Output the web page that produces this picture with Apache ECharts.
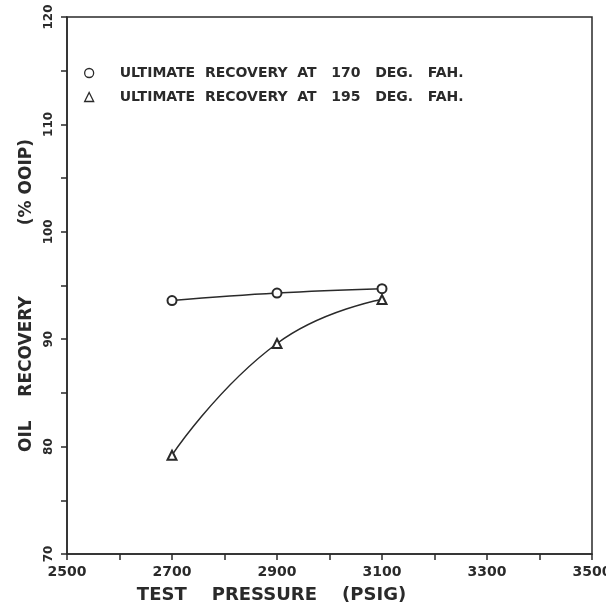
<!DOCTYPE html>
<html>
<head>
<meta charset="utf-8">
<script src="https://cdn.jsdelivr.net/npm/echarts@6/dist/echarts.min.js"></script>
<style>html,body{margin:0;padding:0;background:#fff;}#c{width:606px;height:607px;}</style>
</head>
<body>
<div id="c"></div>
<script>
const pressures = [2700, 2900, 3100];
const recovery170 = [93.6, 94.3, 94.7];
const recovery195 = [79.2, 89.6, 93.7];
const seriesNames = ['ULTIMATE  RECOVERY  AT   170   DEG.   FAH.', 'ULTIMATE  RECOVERY  AT   195   DEG.   FAH.'];
const xTicks = [2500, 2700, 2900, 3100, 3300, 3500];
const yTicks = [70, 80, 90, 100, 110, 120];

const ink = '#2a2a2a';
const chart = echarts.init(document.getElementById('c'), null, {renderer: 'canvas'});
chart.setOption({
  backgroundColor: '#fff',
  animation: false,
  grid: {left: 67, right: 14, top: 17, bottom: 53, show: true, borderColor: ink, borderWidth: 1.5, backgroundColor: 'transparent', outerBoundsMode: 'none', containLabel: false},
  legend: {
    orient: 'vertical', left: 79, top: 61, itemGap: 10,
    itemWidth: 9, itemHeight: 9,
    textStyle: {color: ink, fontFamily: 'DejaVu Sans', fontWeight: 'bold', fontSize: 14, padding: [0, 0, 0, 21]},
    data: [
      {name: seriesNames[0], icon: 'circle', itemStyle: {color: '#fff', borderColor: ink, borderWidth: 1.3}},
      {name: seriesNames[1], icon: 'triangle', itemStyle: {color: '#fff', borderColor: ink, borderWidth: 1.3}}
    ]
  },
  xAxis: {
    type: 'value', min: xTicks[0], max: xTicks[xTicks.length - 1], interval: 200,
    name: 'TEST    PRESSURE    (PSIG)', nameLocation: 'middle', nameGap: 32,
    nameTextStyle: {color: ink, fontFamily: 'DejaVu Sans', fontWeight: 'bold', fontSize: 18, padding: [0, 0, 0, -116]},
    axisLine: {show: true, lineStyle: {color: ink, width: 1.5}},
    axisTick: {show: true, inside: false, length: 6, lineStyle: {color: ink, width: 1.5}},
    minorTick: {show: true, splitNumber: 2, length: 6, lineStyle: {color: ink, width: 1.5}},
    splitLine: {show: false},
    axisLabel: {color: ink, fontFamily: 'DejaVu Sans', fontWeight: 'bold', fontSize: 14, margin: 11, showMaxLabel: true, showMinLabel: true,
      formatter: v => String(v)}
  },
  yAxis: {
    type: 'value', min: yTicks[0], max: yTicks[yTicks.length - 1], interval: 10,
    name: 'OIL    RECOVERY            (% OOIP)', nameLocation: 'middle', nameGap: 31,
    nameTextStyle: {color: ink, fontFamily: 'DejaVu Sans', fontWeight: 'bold', fontSize: 17, padding: [0, 0, 0, -20]},
    axisLine: {show: true, lineStyle: {color: ink, width: 1.5}},
    axisTick: {show: true, inside: false, length: 6, lineStyle: {color: ink, width: 1.5}},
    minorTick: {show: true, splitNumber: 2, length: 6, lineStyle: {color: ink, width: 1.5}},
    splitLine: {show: false},
    axisLabel: {color: ink, fontFamily: 'DejaVu Sans', fontWeight: 'bold', fontSize: 12, rotate: 90, margin: 12,
      formatter: v => String(v)}
  },
  series: [
    {
      name: seriesNames[0], type: 'line', smooth: 0.4,
      data: pressures.map((p, i) => [p, recovery170[i]]),
      symbol: 'emptyCircle', symbolSize: 9,
      lineStyle: {color: ink, width: 1.5},
      itemStyle: {color: ink, borderColor: ink, borderWidth: 1.5}
    },
    {
      name: seriesNames[1], type: 'line', smooth: 0.5,
      data: pressures.map((p, i) => [p, recovery195[i]]),
      symbol: 'emptyTriangle', symbolSize: 9,
      lineStyle: {color: ink, width: 1.5},
      itemStyle: {color: ink, borderColor: ink, borderWidth: 1.5}
    }
  ]
});
</script>
</body>
</html>
